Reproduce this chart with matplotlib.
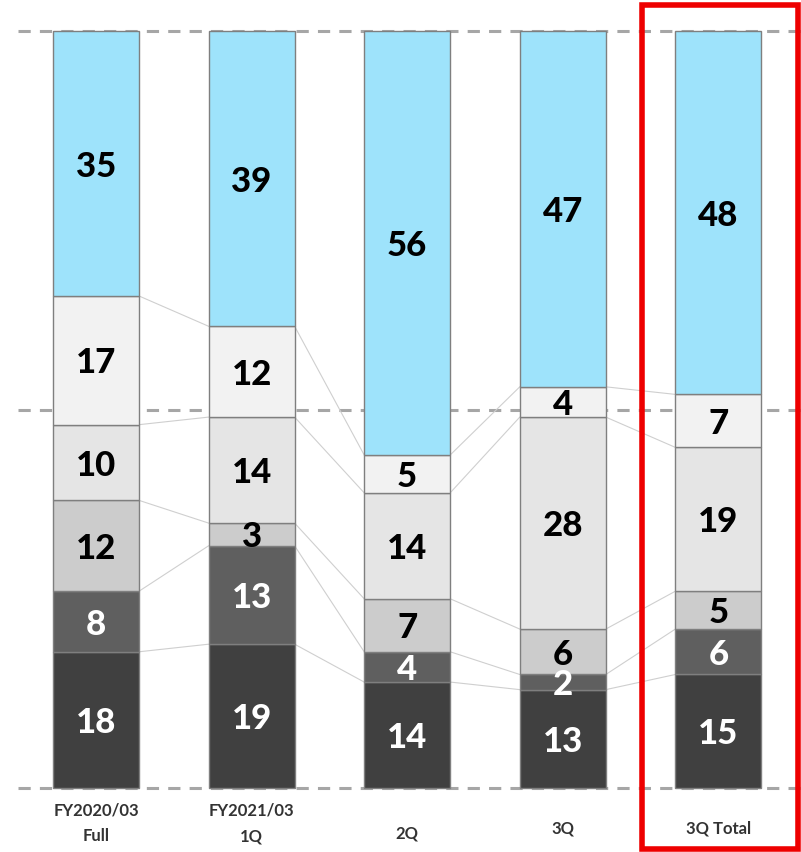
import matplotlib
matplotlib.use("Agg")
import matplotlib.pyplot as plt
import matplotlib.patches as mpatches
import numpy as np

plt.rcParams['font.family'] = ['Lato', 'DejaVu Sans']

categories = ["FY2020/03\nFull", "FY2021/03\n1Q", "2Q", "3Q", "3Q Total"]
# segments from bottom to top
seg_dark = [18, 19, 14, 13, 15]
seg_mid = [8, 13, 4, 2, 6]
seg_gray = [12, 3, 7, 6, 5]
seg_light = [10, 14, 14, 28, 19]
seg_pale = [17, 12, 5, 4, 7]
seg_cyan = [35, 39, 56, 47, 48]

series = [seg_dark, seg_mid, seg_gray, seg_light, seg_pale, seg_cyan]
colors = ["#404040", "#5f5f5f", "#cccccc", "#e5e5e5", "#f2f2f2", "#9ee3fb"]
txt_colors = ["white", "white", "black", "black", "black", "black"]

W, H = 801, 852
fig = plt.figure(figsize=(W / 100, H / 100), dpi=100)
ax = fig.add_axes([0, 0, 1, 1])
ax.set_xlim(-0.617, 4.531)
ax.set_ylim(-8.45, 104.1)
ax.axis("off")

x = np.arange(len(categories))
bw = 0.553

# dashed reference lines
for yv in (0, 50, 100):
    ax.plot([-0.5, 4.6], [yv, yv], ls=(0, (4, 3)), color="#a6a6a6", lw=2.2, zorder=1, clip_on=False)

bottom = np.zeros(len(categories))
tops = []
for vals, c, tc in zip(series, colors, txt_colors):
    vals = np.array(vals, float)
    ax.bar(x, vals, bw, bottom=bottom, color=c, edgecolor="#7f7f7f", lw=1.0, zorder=3)
    for xi, b, v in zip(x, bottom, vals):
        ax.text(xi, b + v / 2 - 0.4, f"{int(v)}", ha="center", va="center", color=tc,
                fontsize=25, fontweight="black", zorder=5)
    bottom = bottom + vals
    tops.append(bottom.copy())

# connector lines between bars
for t in tops[:-1]:
    for i in range(len(categories) - 1):
        ax.plot([x[i] + bw / 2, x[i + 1] - bw / 2], [t[i], t[i + 1]],
                color="#cfcfcf", lw=0.8, zorder=2)

# category labels
label_y = [-1.9, -1.9, -4.9, -4.3, -4.3]
for xi, lab, ly in zip(x, categories, label_y):
    ax.text(xi, ly, lab, ha="center", va="top", fontsize=12, fontweight="bold",
            color="#333333", linespacing=1.75)

# highlight box
ax.add_patch(mpatches.Rectangle((3.51, -8.1), 1.0, 111.5, fill=False, ec="#ee0000",
                                lw=4, zorder=6, clip_on=False))

fig.savefig("out.png", dpi=100)
